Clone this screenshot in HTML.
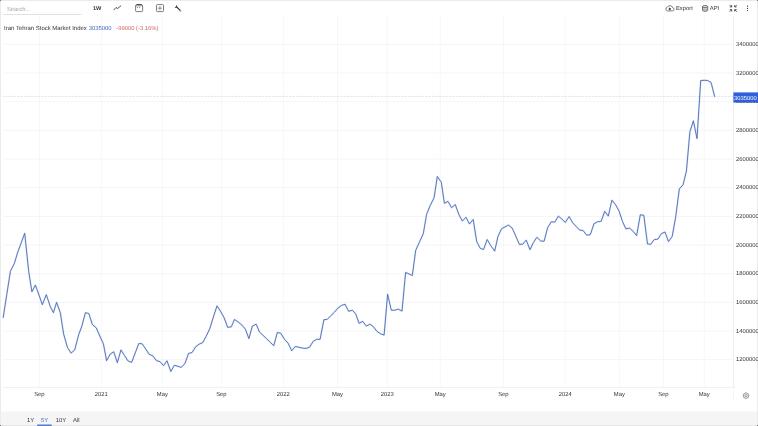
<!DOCTYPE html>
<html lang="en">
<head>
<meta charset="utf-8">
<title>Iran Tehran Stock Market Index</title>
<style>
html,body{margin:0;padding:0;background:#fff;}
body{width:758px;height:426px;overflow:hidden;position:relative;font-family:"Liberation Sans",sans-serif;color:#333;text-rendering:geometricPrecision;}
.wrap{position:absolute;left:0;top:0;width:3032px;height:1704px;transform:scale(0.25);transform-origin:0 0;}

.zm{position:absolute;left:0;top:0;width:3032px;height:1704px;font-size:23.4px;}
.frame{position:absolute;left:0;top:0;width:3024px;height:1696px;border:4px solid #ebebeb;border-top-color:#ebebeb;border-bottom-color:#e6e6e6;box-sizing:content-box;}
.cn{position:absolute;width:4px;height:4px;background:#7a7a7a;}
.chart{position:absolute;left:0;top:0;}
.t{position:absolute;white-space:nowrap;line-height:1;}
.search{left:27.6px;top:26px;color:#a6a6a6;}
.searchline{position:absolute;left:12.8px;top:56.4px;width:313.2px;height:2.4px;background:#d8d8d8;}
.title{left:16.4px;top:101.6px;font-size:23.84px;}
.val{color:#3c63b8;}
.chg{color:#cd5f5c;}
.bar{position:absolute;left:4px;top:1646px;width:3024px;height:54px;background:#f5f5f5;}
.rb{top:1668.4px;}
.sel{color:#4169b8;}
.selu{position:absolute;left:148.8px;top:1697.6px;width:58.4px;height:6.4px;background:#4d7acb;}
.ico{position:absolute;overflow:visible;}
</style>
</head>
<body>
<div class="wrap"><div class="zm">
<div class="frame"></div>
<svg class="chart" width="3032" height="1704" viewBox="0 0 758 426">
<g stroke="#eaeaea" stroke-width="0.4" fill="none">
<line x1="39.5" y1="15.8" x2="39.5" y2="387.4"/>
<line x1="101.4" y1="15.8" x2="101.4" y2="387.4"/>
<line x1="162.4" y1="15.8" x2="162.4" y2="387.4"/>
<line x1="221.5" y1="15.8" x2="221.5" y2="387.4"/>
<line x1="283.4" y1="15.8" x2="283.4" y2="387.4"/>
<line x1="337.5" y1="15.8" x2="337.5" y2="387.4"/>
<line x1="387.3" y1="15.8" x2="387.3" y2="387.4"/>
<line x1="440.3" y1="15.8" x2="440.3" y2="387.4"/>
<line x1="503.5" y1="15.8" x2="503.5" y2="387.4"/>
<line x1="565.3" y1="15.8" x2="565.3" y2="387.4"/>
<line x1="619.4" y1="15.8" x2="619.4" y2="387.4"/>
<line x1="663.5" y1="15.8" x2="663.5" y2="387.4"/>
<line x1="704.3" y1="15.8" x2="704.3" y2="387.4"/>
</g>
<g stroke="#e6e6e6" stroke-width="0.42" fill="none">
<line x1="3.5" y1="44.35" x2="733.6" y2="44.35"/>
<line x1="3.5" y1="73.02" x2="733.6" y2="73.02"/>
<line x1="3.5" y1="101.69" x2="733.6" y2="101.69"/>
<line x1="3.5" y1="130.36" x2="733.6" y2="130.36"/>
<line x1="3.5" y1="159.02" x2="733.6" y2="159.02"/>
<line x1="3.5" y1="187.69" x2="733.6" y2="187.69"/>
<line x1="3.5" y1="216.36" x2="733.6" y2="216.36"/>
<line x1="3.5" y1="245.03" x2="733.6" y2="245.03"/>
<line x1="3.5" y1="273.70" x2="733.6" y2="273.70"/>
<line x1="3.5" y1="302.37" x2="733.6" y2="302.37"/>
<line x1="3.5" y1="331.04" x2="733.6" y2="331.04"/>
<line x1="3.5" y1="359.70" x2="733.6" y2="359.70"/>
</g>
<g stroke="#dedede" stroke-width="0.5" fill="none">
<line x1="733.6" y1="15.8" x2="733.6" y2="387.4"/>
<line x1="3.5" y1="387.4" x2="735.3000000000001" y2="387.4"/>
<line x1="733.6" y1="390.5" x2="733.6" y2="400" stroke="#e6e6e6"/>
</g>
<line x1="3.5" y1="96.4" x2="733.6" y2="96.4" stroke="#c4cfe8" stroke-width="0.55" stroke-dasharray="2.4 1"/>
<path d="M3.2 317.5 L6.8 294.4 L10.4 271.3 L14.4 263.3 L17.5 252.9 L21.1 243.1 L24.7 233.3 L28.7 271.3 L31.9 291.8 L35.4 285.0 L39.0 295.0 L42.3 304.7 L46.3 294.7 L50.2 306.3 L53.4 312.7 L56.6 302.3 L60.3 312.7 L63.6 333.9 L67.5 347.5 L71.1 353.1 L74.7 349.9 L78.7 334.7 L81.9 326.0 L85.4 312.7 L88.8 313.5 L92.3 324.4 L96.3 327.9 L99.8 336.0 L103.4 343.8 L106.6 360.7 L110.3 353.9 L113.8 351.8 L117.3 362.6 L121.0 349.9 L124.5 355.5 L128.1 361.0 L131.7 362.3 L135.2 353.0 L138.8 343.5 L142.2 343.8 L145.7 349.0 L149.2 354.3 L152.9 355.9 L156.5 360.7 L160.0 361.6 L163.5 365.6 L167.0 360.8 L170.8 371.5 L174.3 365.3 L177.9 366.3 L181.1 367.4 L184.8 363.8 L188.6 353.4 L192.0 352.6 L195.8 346.6 L199.1 344.2 L202.6 342.7 L206.1 336.4 L209.8 328.7 L213.3 317.2 L217.0 305.9 L220.5 311.2 L224.2 317.9 L227.7 327.4 L231.3 326.8 L234.5 319.5 L238.2 322.0 L242.0 325.2 L245.4 329.2 L248.9 338.6 L252.4 326.0 L256.2 324.2 L259.5 332.0 L263.1 335.4 L266.7 338.8 L270.2 342.3 L273.8 345.7 L277.3 332.5 L280.8 333.3 L284.5 339.3 L288.2 343.3 L291.7 350.8 L295.2 346.5 L298.9 347.2 L302.4 348.1 L306.0 348.4 L309.5 347.3 L313.2 341.3 L316.7 339.3 L320.1 339.3 L323.9 319.7 L327.2 319.4 L330.8 315.7 L334.4 312.2 L337.9 308.1 L341.6 305.4 L345.1 304.3 L348.6 311.3 L352.3 310.2 L355.8 314.1 L359.1 323.4 L362.7 321.3 L366.3 326.1 L369.8 324.2 L373.3 326.6 L377.0 331.4 L380.5 333.8 L384.1 335.1 L387.6 294.2 L391.3 310.2 L394.8 310.2 L398.2 309.1 L402.0 311.1 L405.6 272.4 L409.0 274.0 L412.3 275.5 L415.7 250.3 L419.7 241.5 L423.3 233.6 L426.6 214.4 L430.1 205.7 L434.1 197.7 L437.3 176.5 L441.3 182.2 L444.4 203.3 L448.0 201.4 L451.6 207.7 L455.3 204.6 L458.8 214.4 L462.3 221.1 L466.0 217.3 L469.5 224.0 L473.2 219.5 L476.7 241.5 L480.3 248.4 L483.5 249.5 L487.2 239.5 L490.7 245.5 L494.7 251.1 L497.9 236.7 L501.5 228.8 L505.0 226.9 L508.5 225.1 L512.2 228.1 L515.8 236.1 L519.4 244.4 L522.9 244.1 L526.2 240.1 L530.0 249.7 L533.4 242.5 L536.9 237.3 L540.6 240.9 L544.1 241.3 L547.6 227.7 L551.3 221.8 L554.8 222.1 L558.4 216.1 L561.9 219.2 L565.3 222.4 L569.1 216.5 L572.8 222.9 L576.2 226.5 L579.6 230.1 L583.1 230.6 L586.7 235.2 L590.3 234.6 L594.0 223.7 L597.5 221.8 L601.2 221.3 L604.7 211.3 L608.3 216.1 L611.9 200.1 L615.5 204.6 L619.1 211.1 L622.5 221.5 L625.9 228.9 L629.5 228.1 L633.1 231.3 L636.6 235.7 L640.3 214.8 L643.8 215.3 L647.5 244.0 L650.7 244.3 L654.3 239.5 L657.8 239.2 L661.4 233.6 L665.0 232.0 L668.5 241.6 L672.2 236.4 L675.7 216.9 L679.3 188.9 L683.0 184.9 L686.4 171.3 L689.9 131.7 L693.4 120.8 L697.0 138.6 L700.7 80.5 L704.2 80.3 L707.7 80.5 L711.1 82.5 L714.6 96.4" fill="none" stroke="#8fb0f5" stroke-opacity="0.26" stroke-width="2" stroke-linejoin="round" stroke-linecap="round"/>
<path d="M3.2 317.5 L6.8 294.4 L10.4 271.3 L14.4 263.3 L17.5 252.9 L21.1 243.1 L24.7 233.3 L28.7 271.3 L31.9 291.8 L35.4 285.0 L39.0 295.0 L42.3 304.7 L46.3 294.7 L50.2 306.3 L53.4 312.7 L56.6 302.3 L60.3 312.7 L63.6 333.9 L67.5 347.5 L71.1 353.1 L74.7 349.9 L78.7 334.7 L81.9 326.0 L85.4 312.7 L88.8 313.5 L92.3 324.4 L96.3 327.9 L99.8 336.0 L103.4 343.8 L106.6 360.7 L110.3 353.9 L113.8 351.8 L117.3 362.6 L121.0 349.9 L124.5 355.5 L128.1 361.0 L131.7 362.3 L135.2 353.0 L138.8 343.5 L142.2 343.8 L145.7 349.0 L149.2 354.3 L152.9 355.9 L156.5 360.7 L160.0 361.6 L163.5 365.6 L167.0 360.8 L170.8 371.5 L174.3 365.3 L177.9 366.3 L181.1 367.4 L184.8 363.8 L188.6 353.4 L192.0 352.6 L195.8 346.6 L199.1 344.2 L202.6 342.7 L206.1 336.4 L209.8 328.7 L213.3 317.2 L217.0 305.9 L220.5 311.2 L224.2 317.9 L227.7 327.4 L231.3 326.8 L234.5 319.5 L238.2 322.0 L242.0 325.2 L245.4 329.2 L248.9 338.6 L252.4 326.0 L256.2 324.2 L259.5 332.0 L263.1 335.4 L266.7 338.8 L270.2 342.3 L273.8 345.7 L277.3 332.5 L280.8 333.3 L284.5 339.3 L288.2 343.3 L291.7 350.8 L295.2 346.5 L298.9 347.2 L302.4 348.1 L306.0 348.4 L309.5 347.3 L313.2 341.3 L316.7 339.3 L320.1 339.3 L323.9 319.7 L327.2 319.4 L330.8 315.7 L334.4 312.2 L337.9 308.1 L341.6 305.4 L345.1 304.3 L348.6 311.3 L352.3 310.2 L355.8 314.1 L359.1 323.4 L362.7 321.3 L366.3 326.1 L369.8 324.2 L373.3 326.6 L377.0 331.4 L380.5 333.8 L384.1 335.1 L387.6 294.2 L391.3 310.2 L394.8 310.2 L398.2 309.1 L402.0 311.1 L405.6 272.4 L409.0 274.0 L412.3 275.5 L415.7 250.3 L419.7 241.5 L423.3 233.6 L426.6 214.4 L430.1 205.7 L434.1 197.7 L437.3 176.5 L441.3 182.2 L444.4 203.3 L448.0 201.4 L451.6 207.7 L455.3 204.6 L458.8 214.4 L462.3 221.1 L466.0 217.3 L469.5 224.0 L473.2 219.5 L476.7 241.5 L480.3 248.4 L483.5 249.5 L487.2 239.5 L490.7 245.5 L494.7 251.1 L497.9 236.7 L501.5 228.8 L505.0 226.9 L508.5 225.1 L512.2 228.1 L515.8 236.1 L519.4 244.4 L522.9 244.1 L526.2 240.1 L530.0 249.7 L533.4 242.5 L536.9 237.3 L540.6 240.9 L544.1 241.3 L547.6 227.7 L551.3 221.8 L554.8 222.1 L558.4 216.1 L561.9 219.2 L565.3 222.4 L569.1 216.5 L572.8 222.9 L576.2 226.5 L579.6 230.1 L583.1 230.6 L586.7 235.2 L590.3 234.6 L594.0 223.7 L597.5 221.8 L601.2 221.3 L604.7 211.3 L608.3 216.1 L611.9 200.1 L615.5 204.6 L619.1 211.1 L622.5 221.5 L625.9 228.9 L629.5 228.1 L633.1 231.3 L636.6 235.7 L640.3 214.8 L643.8 215.3 L647.5 244.0 L650.7 244.3 L654.3 239.5 L657.8 239.2 L661.4 233.6 L665.0 232.0 L668.5 241.6 L672.2 236.4 L675.7 216.9 L679.3 188.9 L683.0 184.9 L686.4 171.3 L689.9 131.7 L693.4 120.8 L697.0 138.6 L700.7 80.5 L704.2 80.3 L707.7 80.5 L711.1 82.5 L714.6 96.4" fill="none" stroke="#4564ae" stroke-width="0.86" stroke-linejoin="round" stroke-linecap="round"/>
<g font-family="Liberation Sans, sans-serif" font-size="5.85" fill="#333">
<text x="39.4" y="395.5" text-anchor="middle">Sep</text>
<text x="101.3" y="395.5" text-anchor="middle">2021</text>
<text x="162.3" y="395.5" text-anchor="middle">May</text>
<text x="221.4" y="395.5" text-anchor="middle">Sep</text>
<text x="283.3" y="395.5" text-anchor="middle">2022</text>
<text x="337.4" y="395.5" text-anchor="middle">May</text>
<text x="387.2" y="395.5" text-anchor="middle">2023</text>
<text x="440.2" y="395.5" text-anchor="middle">May</text>
<text x="503.4" y="395.5" text-anchor="middle">Sep</text>
<text x="565.2" y="395.5" text-anchor="middle">2024</text>
<text x="619.3" y="395.5" text-anchor="middle">May</text>
<text x="663.4" y="395.5" text-anchor="middle">Sep</text>
<text x="704.2" y="395.5" text-anchor="middle">May</text>
<text x="736" y="45.85">3400000</text>
<text x="736" y="74.52">3200000</text>
<text x="736" y="103.19">3000000</text>
<text x="736" y="131.86">2800000</text>
<text x="736" y="160.52">2600000</text>
<text x="736" y="189.19">2400000</text>
<text x="736" y="217.86">2200000</text>
<text x="736" y="246.53">2000000</text>
<text x="736" y="275.20">1800000</text>
<text x="736" y="303.87">1600000</text>
<text x="736" y="332.54">1400000</text>
<text x="736" y="361.20">1200000</text>
</g>
<rect x="733.4" y="92.4" width="24.6" height="10.2" fill="#2f60d9"/>
<text x="734.1" y="100.1" font-family="Liberation Sans, sans-serif" font-size="5.85" fill="#fff">3035000</text>
</svg>
<div class="bar"></div>
<div class="cn" style="left:0;top:0"></div><div class="cn" style="left:3028px;top:0"></div><div class="cn" style="left:0;top:1700px"></div><div class="cn" style="left:3028px;top:1700px"></div>
<span class="t search">Search...</span>
<div class="searchline"></div>
<span class="t" style="left:372px;top:22.8px;font-weight:bold;font-size:22.4px;">1W</span>
<span class="t title">Iran Tehran Stock Market Index</span>
<span class="t val" style="left:354.8px;top:101.2px;">3035000</span>
<span class="t chg" style="left:464.8px;top:101.2px;">-99000 (-3.16%)</span>
<span class="t" style="left:2703.6px;top:21.6px;">Export</span>
<span class="t" style="left:2839.2px;top:21.6px;">API</span>
<span class="t rb" style="left:107.6px;">1Y</span>
<span class="t rb sel" style="left:163.6px;">5Y</span>
<span class="t rb" style="left:223.2px;">10Y</span>
<span class="t rb" style="left:292.4px;">All</span>
<div class="selu"></div>
<!-- icons -->
<svg class="ico" style="left:452px;top:20px" width="36" height="24" viewBox="0 0 9 6"><path d="M0.9 4.8 L3.0 2.5 L4.7 3.5 L7.8 0.9" fill="none" stroke="#333" stroke-width="0.85" stroke-linecap="round" stroke-linejoin="round"/></svg>
<svg class="ico" style="left:540px;top:16px" width="32.8" height="32" viewBox="0 0 8.2 8"><rect x="0.6" y="0.95" width="7.05" height="6.65" rx="0.9" fill="none" stroke="#444" stroke-width="0.7"/><line x1="1.5" y1="0.5" x2="6.7" y2="0.5" stroke="#222" stroke-width="0.7"/><line x1="0.6" y1="1.9" x2="7.6" y2="1.9" stroke="#555" stroke-width="0.5"/><path d="M2 3 h1.2 l-0.6 1.3 Z M4.1 3 h1.2 l-0.6 1.3 Z" fill="#555"/></svg>
<svg class="ico" style="left:624px;top:16px" width="32" height="32" viewBox="0 0 8 8"><rect x="0.55" y="0.6" width="6.95" height="7" rx="0.9" fill="none" stroke="#444" stroke-width="0.7"/><path d="M3.95 2.1 V6.3 M1.85 4.2 H6.05" stroke="#333" stroke-width="0.5" fill="none"/></svg>
<svg class="ico" style="left:698px;top:21.2px" width="28" height="26.4" viewBox="0 0 7 6.6"><path d="M2.3 1.9 L5.2 4.6" stroke="#2a2a2a" stroke-width="1.25" stroke-linecap="round" fill="none"/><path d="M2.0 0.5 L2.3 1.9 L0.8 2.1" stroke="#333" stroke-width="0.95" stroke-linecap="round" stroke-linejoin="round" fill="none"/><circle cx="5.7" cy="5.4" r="0.8" fill="#c4c4c4" stroke="#777" stroke-width="0.55"/></svg>
<svg class="ico" style="left:2660.4px;top:22px" width="38.4" height="23.6" viewBox="0 0 9.8 6.4" preserveAspectRatio="none"><path d="M2.5 5.9 H7.6 A1.75 1.75 0 0 0 7.9 2.45 A2.9 2.9 0 0 0 2.4 1.9 A2.05 2.05 0 0 0 2.5 5.9 Z" fill="none" stroke="#333" stroke-width="0.65" stroke-linejoin="round"/><path d="M4.9 2.3 L6.4 4 H5.5 V5.1 H4.3 V4 H3.4 Z" fill="#2a2a2a"/></svg>
<svg class="ico" style="left:2807.6px;top:20.4px" width="24.8" height="27.2" viewBox="0 0 6.2 6.8"><path d="M0.5 1.5 V5.3 A2.6 1 0 0 0 5.7 5.3 V1.5 Z" fill="#c9c9c9" stroke="#444" stroke-width="0.7"/><ellipse cx="3.1" cy="1.5" rx="2.6" ry="1" fill="#eee" stroke="#444" stroke-width="0.7"/><path d="M0.5 3.5 A2.6 1 0 0 0 5.7 3.5" fill="none" stroke="#999" stroke-width="0.4"/></svg>
<svg class="ico" style="left:2916px;top:18.4px" width="33.6" height="30.4" viewBox="0 0 8.4 7.6"><g fill="none" stroke="#333" stroke-width="0.8"><path d="M0.6 0.4 L2.5 2.3 M2.7 0.6 V2.5 H0.8"/><path d="M7.8 0.4 L5.9 2.3 M5.7 0.6 V2.5 H7.6"/><path d="M0.6 7.2 L2.5 5.3 M2.7 7 V5.1 H0.8"/><path d="M7.8 7.2 L5.9 5.3 M5.7 7 V5.1 H7.6"/></g></svg>
<svg class="ico" style="left:2987.2px;top:22.4px" width="6.4" height="25.6" viewBox="0 0 1.6 6.4"><circle cx="0.8" cy="0.7" r="0.6" fill="#333"/><circle cx="0.8" cy="2.9" r="0.6" fill="#333"/><circle cx="0.8" cy="5.1" r="0.6" fill="#333"/></svg>
<svg class="ico" style="left:2970px;top:1567.6px" width="28" height="29.6" viewBox="0 0 7 7.4"><path d="M3.5 0.7 L6.1 2.15 V5.15 L3.5 6.6 L0.9 5.15 V2.15 Z" fill="#ececec" stroke="#808080" stroke-width="0.75" stroke-linejoin="round"/><circle cx="3.5" cy="3.65" r="1.05" fill="#f8f8f8" stroke="#7c7c7c" stroke-width="0.65"/></svg>
</div></div>
</body>
</html>
